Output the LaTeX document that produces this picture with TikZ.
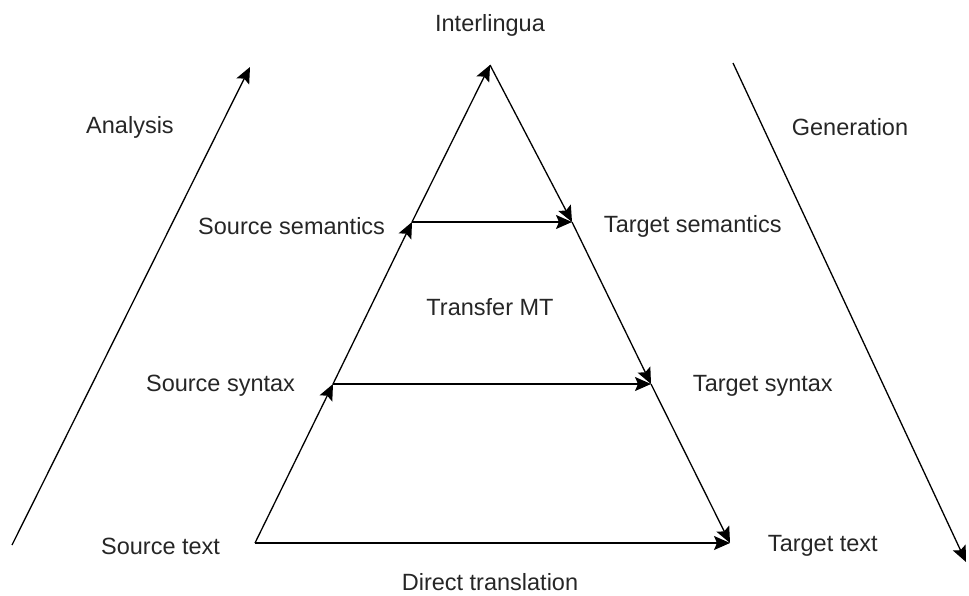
\documentclass[tikz,border=0pt]{standalone}
\usepackage{fontspec}
\setmainfont{Liberation Sans}
\usetikzlibrary{arrows.meta}

\begin{document}
\begin{tikzpicture}[x=1pt, y=-1pt, line width=1.3pt, >={Stealth[length=16pt, width=14pt, inset=3pt]},
                    every node/.style={font=\fontsize{23.5}{27}\selectfont, text=black!85}]

                            \useasboundingbox (0,0) rectangle (969,596);

                            \coordinate (srctext) at (255,543);
                            \coordinate (srcsyn) at (333,384);
                            \coordinate (srcsem) at (412,222);
                            \coordinate (apex) at (490,65);
                            \coordinate (tgtsem) at (572,222);
                            \coordinate (tgtsyn) at (651,384);
                            \coordinate (tgttext) at (730,543);
                            \coordinate (anastart) at (12,545);
                            \coordinate (anaend) at (250,67);
                            \coordinate (genstart) at (733,63);
                            \coordinate (genend) at (966,562);

                            \node (interlingua) at (490,25) {Interlingua};
                            \node (analysis) at (130,127) {Analysis};
                            \node (generation) at (850,127) {Generation};
                            \node[anchor=east] (srcsemlbl) at (389,226) {Source semantics};
                            \node[anchor=west] (tgtsemlbl) at (600,226) {Target semantics};
                            \node (transfer) at (490,307) {Transfer MT};
                            \node[anchor=east] (srcsynlbl) at (299,386) {Source syntax};
                            \node[anchor=west] (tgtsynlbl) at (689,386) {Target syntax};
                            \node[anchor=east] (srctextlbl) at (224,546) {Source text};
                            \node[anchor=west] (tgttextlbl) at (764,546) {Target text};
                            \node (direct) at (490,582) {Direct translation};

                            \draw[->] (srctext) -- (srcsyn);
                            \draw[->] (srcsyn) -- (srcsem);
                            \draw[->] (srcsem) -- (apex);
                            \draw[->] (apex) -- (tgtsem);
                            \draw[->] (tgtsem) -- (tgtsyn);
                            \draw[->] (tgtsyn) -- (tgttext);
                            \draw[->] (srcsem) -- (tgtsem);
                            \draw[->] (srcsyn) -- (tgtsyn);
                            \draw[->] (srctext) -- (tgttext);
                            \draw[->] (anastart) -- (anaend);
                            \draw[->] (genstart) -- (genend);
                        \end{tikzpicture}
\end{document}
